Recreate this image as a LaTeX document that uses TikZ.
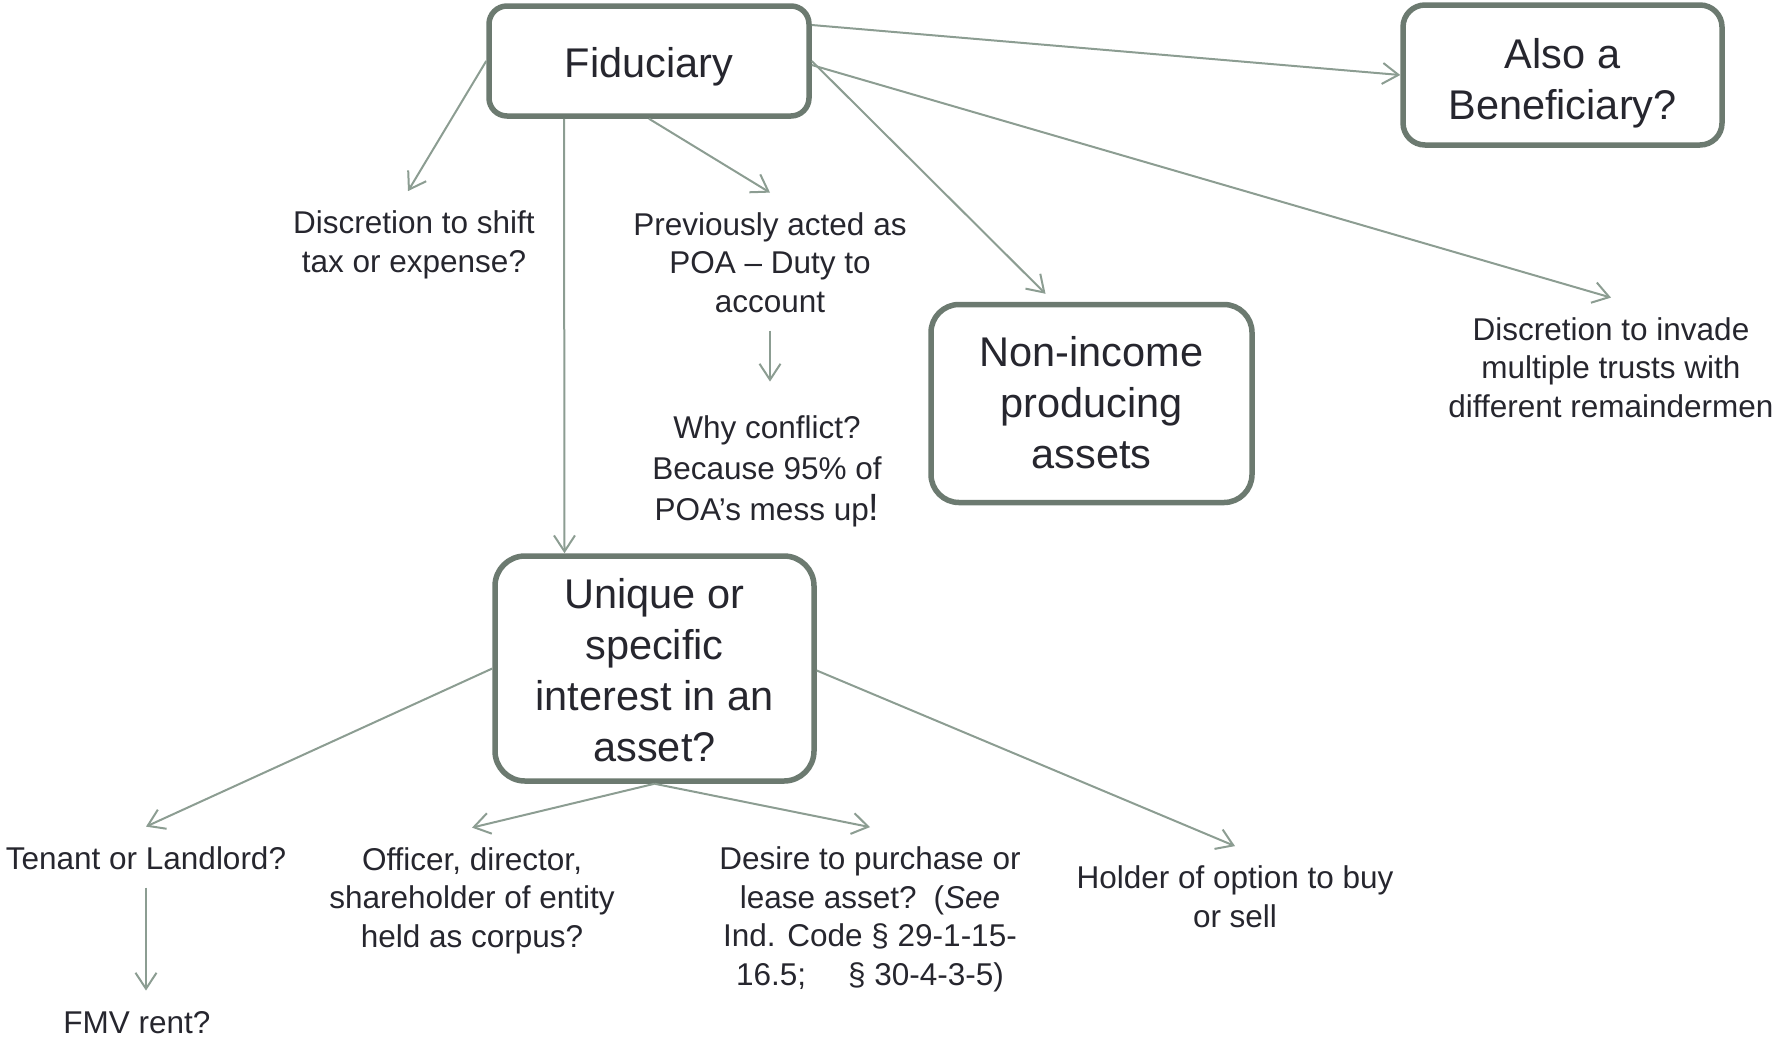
\documentclass[tikz,border=0pt]{standalone}
\usepackage{fontspec}
\setmainfont{Liberation Sans}
\usetikzlibrary{arrows.meta,calc}
\definecolor{boxline}{RGB}{108,122,112}
\definecolor{arrline}{RGB}{140,157,146}
\definecolor{txt}{RGB}{38,38,46}
\begin{document}
\begin{tikzpicture}[x=0.5pt,y=-0.5pt,
  bigbox/.style={draw=boxline, line width=2.75pt, fill=white, inner sep=2pt, align=center, text=txt,
     font=\fontsize{20.75}{25.5}\selectfont, text depth=0pt},
  lbl/.style={align=center, text=txt, font=\fontsize{15.75}{19.25}\selectfont, anchor=base,
     text height=12pt, inner xsep=0pt, inner ysep=9pt},
  ltwo/.style={lbl, text height=31.25pt},
  lthree/.style={lbl, text height=50.5pt},
  lfour/.style={lbl, text height=69.75pt},
  arr/.style={draw=arrline, line width=1pt, -{Straight Barb[length=8pt,width=10.5pt]}}]
\useasboundingbox (0,0) rectangle (1777,1040);

% boxes (base = last line)
\node[bigbox, minimum width=160pt, minimum height=55pt, rounded corners=9pt, text height=16pt] (fid) at (649,61) {Fiduciary};
\node[bigbox, minimum width=159.5pt, minimum height=70pt, rounded corners=11pt, text height=44.5pt] (also) at (1562.5,75) {Also a\\Beneficiary?};
\node[bigbox, minimum width=160.5pt, minimum height=99pt, rounded corners=14pt, text height=64.5pt] (non) at (1091.5,403.5) {Non-income\\producing\\assets};
\node[bigbox, minimum width=159.5pt, minimum height=112.5pt, rounded corners=15pt, text height=93pt] (uniq) at (654.5,668.5) {Unique or\\specific\\interest in an\\asset?};

% labels (placed at the baseline of their last line)
\node[ltwo] (disc) at (414,272) {Discretion to shift\\tax or expense?};
\node[lthree] (prev) at (770,312) {Previously acted as\\POA – Duty to\\account};
\node[lbl, text height=53pt, inner ysep=16pt, font=\fontsize{15.75}{20.5}\selectfont] (why) at (767,520) {Why conflict?\\Because 95\% of\\POA’s mess up{\fontsize{19}{20}\selectfont!}};
\node[lthree] (inv) at (1611,417) {Discretion to invade\\multiple trusts with\\different remaindermen};
\node[lbl] (ten) at (146,869) {Tenant or Landlord?};
\node[lbl] (fmv) at (137,1033) {FMV rent?};
\node[lthree] (off) at (472,947) {Officer, director,\\shareholder of entity\\held as corpus?};
\node[lfour] (des) at (870,985) {Desire to purchase or\\lease asset?\hspace*{8.5pt}(\textit{See}\\Ind. Code § 29-1-15-\\16.5;\hspace*{21pt}§ 30-4-3-5)};
\node[ltwo] (hold) at (1235,927) {Holder of option to buy\\or sell};

% connectors
\draw[arr] (fid.west) -- ([xshift=-3pt]disc.north);
\draw[arr] (fid.south) -- (prev.north);
\draw[arr] ([xshift=-42.5pt]fid.south) -- ([xshift=-45pt]uniq.north);
\draw[arr] ([yshift=18pt]fid.east) -- (also.west);
\draw[arr] (fid.east) -- ([xshift=-23pt,yshift=4pt]non.north);
\draw[arr] ([yshift=-2pt]fid.east) -- (inv.north);
\draw[arr] (prev.south) -- (prev.south |- why.north);
\draw[arr] (uniq.west) -- (ten.north);
\draw[arr] (uniq.south) -- (off.north);
\draw[arr] (uniq.south) -- (des.north);
\draw[arr] ([yshift=-1pt]uniq.east) -- (hold.north);
\draw[arr] (ten.south) -- (ten.south |- fmv.north);
\end{tikzpicture}
\end{document}
